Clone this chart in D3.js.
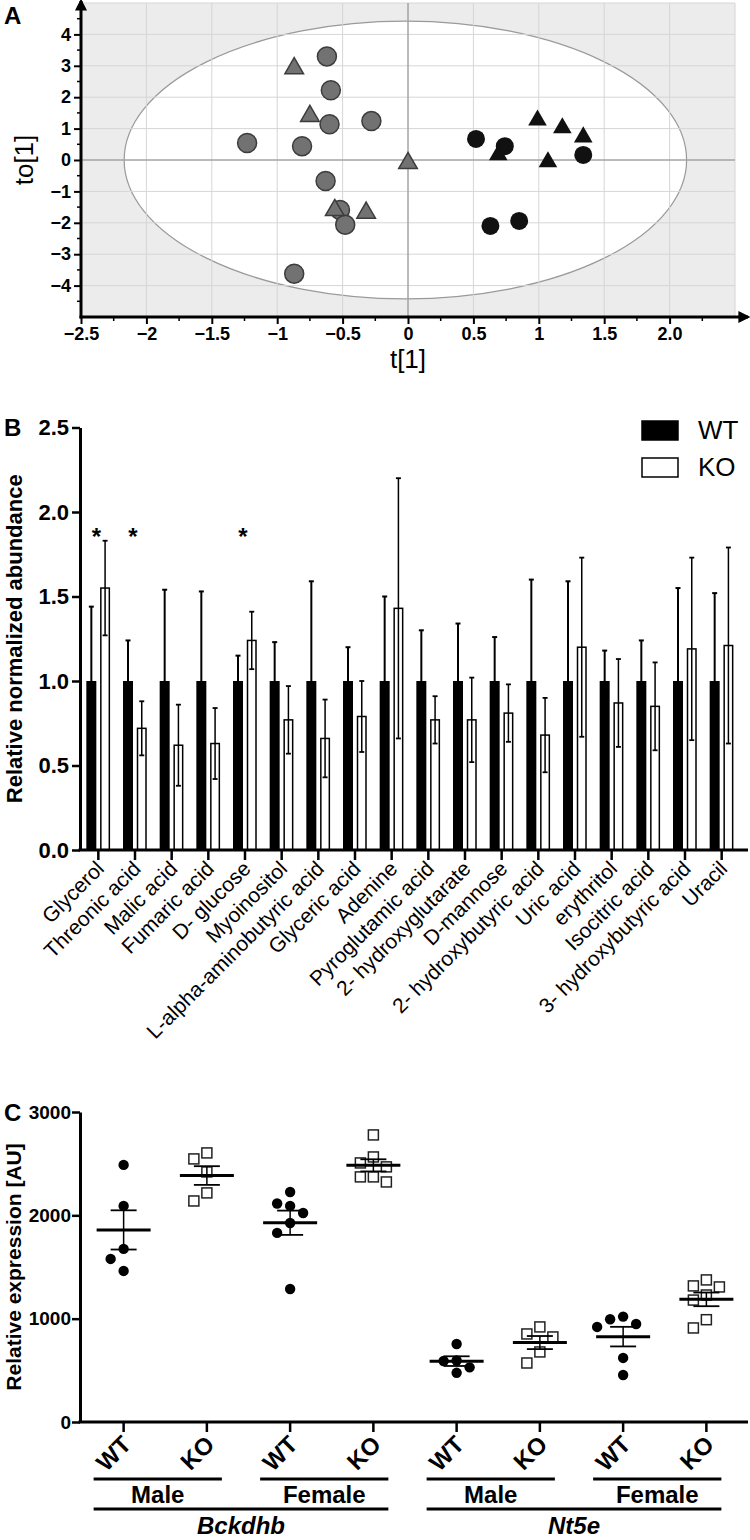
<!DOCTYPE html>
<html><head><meta charset="utf-8">
<script src="https://cdn.jsdelivr.net/npm/d3@7"></script>
<style>body{margin:0;background:#fff}svg{display:block}</style>
</head><body>
<svg id="chart" width="750" height="1540"></svg>
<script>
// ---------------- Panel A data (OPLS-DA scores) ----------------
const aXTicks = [-2.5, -2, -1.5, -1, -0.5, 0, 0.5, 1, 1.5, 2.0];
const aXTickLabels = ["\u22122.5", "\u22122", "\u22121.5", "\u22121", "\u22120.5", "0", "0.5", "1", "1.5", "2.0"];
const aYTicks = [-4, -3, -2, -1, 0, 1, 2, 3, 4];
const aYTickLabels = ["\u22124", "\u22123", "\u22122", "\u22121", "0", "1", "2", "3", "4"];
const grayCircles = [[-0.62, 3.30], [-0.59, 2.22], [-0.60, 1.14], [-0.28, 1.24], [-1.23, 0.54],
  [-0.81, 0.44], [-0.63, -0.67], [-0.52, -1.59], [-0.48, -2.06], [-0.87, -3.62]];
const grayTriangles = [[-0.87, 2.92], [-0.75, 1.40], [0.0, -0.10], [-0.56, -1.60], [-0.32, -1.68]];
const blackCircles = [[0.52, 0.67], [0.74, 0.44], [1.34, 0.16], [0.63, -2.10], [0.85, -1.94]];
const blackTriangles = [[0.99, 1.27], [1.18, 1.02], [1.34, 0.73], [0.69, 0.16], [1.07, -0.06]];
const ellipseT = 2.15, ellipseTo = 4.42;

// ---------------- Panel B data ----------------
const metabolites = ["Glycerol", "Threonic acid", "Malic acid", "Fumaric acid", "D- glucose", "Myoinositol",
  "L-alpha-aminobutyric acid", "Glyceric acid", "Adenine", "Pyroglutamic acid", "2- hydroxyglutarate",
  "D-mannose", "2- hydroxybutyric acid", "Uric acid", "erythritol", "Isocitric acid",
  "3- hydroxybutyric acid", "Uracil"];
const wtMean = [1, 1, 1, 1, 1, 1, 1, 1, 1, 1, 1, 1, 1, 1, 1, 1, 1, 1];
const wtErr = [0.44, 0.24, 0.54, 0.53, 0.15, 0.23, 0.59, 0.20, 0.50, 0.30, 0.34, 0.26, 0.60, 0.59, 0.18, 0.24, 0.55, 0.52];
const koMean = [1.55, 0.72, 0.62, 0.63, 1.24, 0.77, 0.66, 0.79, 1.43, 0.77, 0.77, 0.81, 0.68, 1.20, 0.87, 0.85, 1.19, 1.21];
const koErr = [0.28, 0.16, 0.24, 0.21, 0.17, 0.20, 0.23, 0.21, 0.77, 0.14, 0.25, 0.17, 0.22, 0.53, 0.26, 0.26, 0.54, 0.58];
const significant = ["Glycerol", "Threonic acid", "D- glucose"];
const bYTicks = [0, 0.5, 1.0, 1.5, 2.0, 2.5];
const bSeries = ["WT", "KO"];

// ---------------- Panel C data ----------------
const genes = ["Bckdhb", "Nt5e"];
const sexes = ["Male", "Female"];
const genotypes = ["WT", "KO"];
const bckdhbMaleWT = [2488, 2091, 1675, 1578, 1462];
const bckdhbMaleKO = [2604, 2546, 2420, 2217, 2139];
const bckdhbFemaleWT = [2226, 2115, 2091, 2023, 1926, 1830, 1287];
const bckdhbFemaleKO = [2778, 2565, 2507, 2469, 2372, 2372, 2323];
const nt5eMaleWT = [755, 595, 590, 529, 476];
const nt5eMaleKO = [920, 852, 823, 678, 571];
const nt5eFemaleWT = [1020, 994, 948, 920, 620, 455];
const nt5eFemaleKO = [1375, 1317, 1307, 1229, 1180, 990, 910];
const cYTicks = [0, 1000, 2000, 3000];

// ======================================================
const svg = d3.select("#chart");
svg.append("rect").attr("width", 750).attr("height", 1540).attr("fill", "#fff");
const SANS = "'Liberation Sans',Arial,Helvetica,sans-serif";

const defs = svg.append("defs");
defs.append("marker").attr("id", "arrow").attr("viewBox", "0 0 10 10").attr("refX", 8).attr("refY", 5)
  .attr("markerWidth", 4).attr("markerHeight", 4).attr("orient", "auto")
  .append("path").attr("d", "M0,0 L10,5 L0,10 Z").attr("fill", "#000");

// ---------------- Panel A ----------------
{
  const x = d3.scaleLinear().domain([-2.5, 2.5]).range([81, 735]);
  const y = d3.scaleLinear().domain([-5, 5]).range([317, 3]);
  const g = svg.append("g");
  g.append("rect").attr("x", x(-2.5)).attr("y", y(5)).attr("width", x(2.5) - x(-2.5)).attr("height", y(-5) - y(5))
    .attr("fill", "#ececec");
  g.append("ellipse").attr("cx", x(-0.02)).attr("cy", y(0))
    .attr("rx", x(ellipseT) - x(0)).attr("ry", y(0) - y(ellipseTo))
    .attr("fill", "#fff").attr("stroke", "#9a9a9a").attr("stroke-width", 1.2);
  const gx = d3.range(-2, 2.51, 0.5), gy = d3.range(-4, 5.01, 1);
  g.selectAll(".gvx").data(gx).join("line").attr("x1", d => x(d)).attr("x2", d => x(d))
    .attr("y1", y(5)).attr("y2", y(-5)).attr("stroke", "#d6d6d6").attr("stroke-width", 1);
  g.selectAll(".gvy").data(gy).join("line").attr("y1", d => y(d)).attr("y2", d => y(d))
    .attr("x1", x(-2.5)).attr("x2", x(2.5)).attr("stroke", "#d6d6d6").attr("stroke-width", 1);
  g.append("line").attr("x1", x(0)).attr("x2", x(0)).attr("y1", y(5)).attr("y2", y(-5)).attr("stroke", "#8a8a8a");
  g.append("line").attr("y1", y(0)).attr("y2", y(0)).attr("x1", x(-2.5)).attr("x2", x(2.5)).attr("stroke", "#8a8a8a");

  // points
  const tri = d3.symbol().type(d3.symbolTriangle).size(150);
  g.selectAll(".gc").data(grayCircles).join("circle").attr("cx", d => x(d[0])).attr("cy", d => y(d[1]))
    .attr("r", 9.5).attr("fill", "#727272").attr("stroke", "#3c3c3c").attr("stroke-width", 1.5);
  g.selectAll(".gt").data(grayTriangles).join("path").attr("d", tri)
    .attr("transform", d => `translate(${x(d[0])},${y(d[1])})`)
    .attr("fill", "#727272").attr("stroke", "#3c3c3c").attr("stroke-width", 1.5);
  g.selectAll(".bc").data(blackCircles).join("circle").attr("cx", d => x(d[0])).attr("cy", d => y(d[1]))
    .attr("r", 9).attr("fill", "#111");
  g.selectAll(".bt").data(blackTriangles).join("path").attr("d", tri)
    .attr("transform", d => `translate(${x(d[0])},${y(d[1])})`).attr("fill", "#111");

  // axes
  const yAx = d3.axisLeft(y).tickValues(aYTicks).tickSize(7).tickSizeOuter(0)
    .tickFormat((d, i) => aYTickLabels[i]);
  const ya = g.append("g").attr("transform", `translate(${x(-2.5)},0)`).call(yAx);
  ya.select(".domain").remove();
  ya.selectAll(".tick line").attr("stroke-width", 2);
  ya.selectAll(".tick text").attr("font-family", SANS).attr("font-weight", "bold").attr("font-size", 18).attr("x", -10);
  g.selectAll(".ymin").data(d3.range(-4.5, 4.6, 1)).join("line").attr("x1", x(-2.5) - 4).attr("x2", x(-2.5))
    .attr("y1", d => y(d)).attr("y2", d => y(d)).attr("stroke", "#000").attr("stroke-width", 1.5);

  const xAx = d3.axisBottom(x).tickValues(aXTicks).tickSize(7).tickSizeOuter(0)
    .tickFormat((d, i) => aXTickLabels[i]);
  const xa = g.append("g").attr("transform", `translate(0,${y(-5)})`).call(xAx);
  xa.select(".domain").remove();
  xa.selectAll(".tick line").attr("stroke-width", 2);
  xa.selectAll(".tick text").attr("font-family", SANS).attr("font-weight", "bold").attr("font-size", 18).attr("y", 10);
  g.selectAll(".xmin").data(d3.range(-2.25, 2.5, 0.5)).join("line").attr("y1", y(-5)).attr("y2", y(-5) + 4)
    .attr("x1", d => x(d)).attr("x2", d => x(d)).attr("stroke", "#000").attr("stroke-width", 1.5);

  g.append("line").attr("x1", x(-2.5)).attr("x2", x(-2.5)).attr("y1", y(-5) + 1.5).attr("y2", 1)
    .attr("stroke", "#000").attr("stroke-width", 3).attr("marker-end", "url(#arrow)");
  g.append("line").attr("x1", x(-2.5) - 1.5).attr("x2", 748).attr("y1", y(-5)).attr("y2", y(-5))
    .attr("stroke", "#000").attr("stroke-width", 3).attr("marker-end", "url(#arrow)");

  g.append("text").attr("x", x(0)).attr("y", 368).attr("text-anchor", "middle")
    .attr("font-family", SANS).attr("font-size", 26).text("t[1]");
  g.append("text").attr("transform", `translate(33,${y(0)}) rotate(-90)`).attr("text-anchor", "middle")
    .attr("font-family", SANS).attr("font-size", 26).text("to[1]");
  g.append("text").attr("x", 4).attr("y", 24).attr("font-family", SANS).attr("font-weight", "bold")
    .attr("font-size", 24).text("A");
}

// ---------------- Panel B ----------------
{
  const x = d3.scaleBand().domain(metabolites).range([80, 740]);
  const y = d3.scaleLinear().domain([0, 2.5]).range([850, 427.5]);
  const g = svg.append("g");
  const c = m => x(m) + x.bandwidth() / 2;
  const rows = metabolites.map((m, i) => ({ m, wt: wtMean[i], wte: wtErr[i], ko: koMean[i], koe: koErr[i] }));

  // WT bars + upper error
  g.selectAll(".wt").data(rows).join("rect").attr("x", d => c(d.m) - 12).attr("width", 10)
    .attr("y", d => y(d.wt)).attr("height", d => y(0) - y(d.wt)).attr("fill", "#000");
  g.selectAll(".wte").data(rows).join("line").attr("x1", d => c(d.m) - 7).attr("x2", d => c(d.m) - 7)
    .attr("y1", d => y(d.wt)).attr("y2", d => y(d.wt + d.wte)).attr("stroke", "#000").attr("stroke-width", 2);
  g.selectAll(".wtc").data(rows).join("line").attr("x1", d => c(d.m) - 9.5).attr("x2", d => c(d.m) - 4.5)
    .attr("y1", d => y(d.wt + d.wte)).attr("y2", d => y(d.wt + d.wte)).attr("stroke", "#000").attr("stroke-width", 2);

  // KO bars + error both ways
  g.selectAll(".ko").data(rows).join("rect").attr("x", d => c(d.m) + 2.5).attr("width", 8.5)
    .attr("y", d => y(d.ko)).attr("height", d => y(0) - y(d.ko)).attr("fill", "#fff")
    .attr("stroke", "#000").attr("stroke-width", 1.5);
  g.selectAll(".koe").data(rows).join("line").attr("x1", d => c(d.m) + 6.75).attr("x2", d => c(d.m) + 6.75)
    .attr("y1", d => y(d.ko - d.koe)).attr("y2", d => y(d.ko + d.koe)).attr("stroke", "#000").attr("stroke-width", 1.5);
  ["+", "-"].forEach(s => {
    g.selectAll(".koc" + (s === "+" ? "p" : "m")).data(rows).join("line")
      .attr("x1", d => c(d.m) + 4.25).attr("x2", d => c(d.m) + 9.25)
      .attr("y1", d => y(s === "+" ? d.ko + d.koe : d.ko - d.koe))
      .attr("y2", d => y(s === "+" ? d.ko + d.koe : d.ko - d.koe))
      .attr("stroke", "#000").attr("stroke-width", 1.8);
  });

  // significance
  g.selectAll(".sig").data(significant).join("text").attr("x", d => c(d) - 2).attr("y", 545)
    .attr("text-anchor", "middle").attr("font-family", SANS).attr("font-weight", "bold").attr("font-size", 24).text("*");

  // y axis
  const yAx = d3.axisLeft(y).tickValues(bYTicks).tickSize(8).tickSizeOuter(0).tickFormat(d3.format(".1f"));
  const ya = g.append("g").attr("transform", "translate(80,0)").call(yAx);
  ya.select(".domain").attr("stroke-width", 3);
  ya.selectAll(".tick line").attr("stroke-width", 2.5);
  ya.selectAll(".tick text").attr("font-family", SANS).attr("font-weight", "bold").attr("font-size", 22).attr("x", -11);

  // x axis
  g.append("line").attr("x1", 78.5).attr("x2", 748).attr("y1", y(0)).attr("y2", y(0)).attr("stroke", "#000").attr("stroke-width", 3);
  g.selectAll(".xt").data(metabolites).join("line").attr("x1", d => c(d)).attr("x2", d => c(d))
    .attr("y1", y(0)).attr("y2", y(0) + 10).attr("stroke", "#000").attr("stroke-width", 2.5);
  g.selectAll(".xl").data(metabolites).join("text")
    .attr("transform", d => `translate(${c(d) + 7},${y(0) + 20}) rotate(-45)`)
    .attr("text-anchor", "end").attr("font-family", SANS).attr("font-size", 21).text(d => d);

  g.append("text").attr("transform", `translate(22,${(y(0) + y(2.5)) / 2}) rotate(-90)`).attr("text-anchor", "middle")
    .attr("font-family", SANS).attr("font-weight", "bold").attr("font-size", 22).text("Relative normalized abundance");
  g.append("text").attr("x", 4).attr("y", 436).attr("font-family", SANS).attr("font-weight", "bold")
    .attr("font-size", 24).text("B");

  // legend
  const leg = g.append("g");
  bSeries.forEach((s, i) => {
    const yy = 430 + i * 37;
    leg.append("rect").attr("x", 642).attr("y", yy - 9).attr("width", 36).attr("height", 19)
      .attr("fill", s === "WT" ? "#000" : "#fff").attr("stroke", "#000").attr("stroke-width", 1.5);
    leg.append("text").attr("x", 698).attr("y", yy + 9).attr("font-family", SANS).attr("font-size", 26).text(s);
  });
}

// ---------------- Panel C ----------------
{
  const groups = [
    { gene: genes[0], sex: sexes[0], gt: genotypes[0], v: bckdhbMaleWT },
    { gene: genes[0], sex: sexes[0], gt: genotypes[1], v: bckdhbMaleKO },
    { gene: genes[0], sex: sexes[1], gt: genotypes[0], v: bckdhbFemaleWT },
    { gene: genes[0], sex: sexes[1], gt: genotypes[1], v: bckdhbFemaleKO },
    { gene: genes[1], sex: sexes[0], gt: genotypes[0], v: nt5eMaleWT },
    { gene: genes[1], sex: sexes[0], gt: genotypes[1], v: nt5eMaleKO },
    { gene: genes[1], sex: sexes[1], gt: genotypes[0], v: nt5eFemaleWT },
    { gene: genes[1], sex: sexes[1], gt: genotypes[1], v: nt5eFemaleKO }
  ];
  groups.forEach((d, i) => {
    d.i = i; d.mean = d3.mean(d.v); d.sem = d3.deviation(d.v) / Math.sqrt(d.v.length);
  });
  const x = d3.scalePoint().domain(d3.range(groups.length)).range([82, 748]).padding(0.5);
  const y = d3.scaleLinear().domain([0, 3000]).range([1422, 1112]);
  const g = svg.append("g");

  // simple dodge layout computed from values
  const D = 13, THR = 11.5;
  const pts = [];
  groups.forEach(gr => {
    const placed = [];
    gr.v.forEach(val => {
      const py = y(val);
      const cands = [0, -D, D, -2 * D, 2 * D];
      let off = 0;
      for (const o of cands) {
        if (placed.every(p => Math.hypot(p.o - o, p.py - py) >= THR)) { off = o; break; }
      }
      placed.push({ o: off, py });
      pts.push({ gt: gr.gt, cx: x(gr.i) + off, cy: py });
    });
  });
  g.selectAll(".dot").data(pts.filter(p => p.gt === "WT")).join("circle")
    .attr("cx", d => d.cx).attr("cy", d => d.cy).attr("r", 5.2).attr("fill", "#000");
  g.selectAll(".sq").data(pts.filter(p => p.gt === "KO")).join("rect")
    .attr("x", d => d.cx - 5).attr("y", d => d.cy - 5).attr("width", 10).attr("height", 10)
    .attr("fill", "#fff").attr("stroke", "#222").attr("stroke-width", 1.5);

  // mean & SEM
  g.selectAll(".mean").data(groups).join("line").attr("x1", d => x(d.i) - 27).attr("x2", d => x(d.i) + 27)
    .attr("y1", d => y(d.mean)).attr("y2", d => y(d.mean)).attr("stroke", "#000").attr("stroke-width", 3);
  g.selectAll(".semv").data(groups).join("line").attr("x1", d => x(d.i)).attr("x2", d => x(d.i))
    .attr("y1", d => y(d.mean - d.sem)).attr("y2", d => y(d.mean + d.sem)).attr("stroke", "#000").attr("stroke-width", 1.5);
  [1, -1].forEach(s => {
    g.selectAll(".cap" + s).data(groups).join("line").attr("x1", d => x(d.i) - 13).attr("x2", d => x(d.i) + 13)
      .attr("y1", d => y(d.mean + s * d.sem)).attr("y2", d => y(d.mean + s * d.sem))
      .attr("stroke", "#000").attr("stroke-width", 1.8);
  });

  // y axis
  const yAx = d3.axisLeft(y).tickValues(cYTicks).tickSize(8).tickSizeOuter(0).tickFormat(d3.format("d"));
  const ya = g.append("g").attr("transform", "translate(80,0)").call(yAx);
  ya.select(".domain").attr("stroke-width", 3);
  ya.selectAll(".tick line").attr("stroke-width", 2.5);
  ya.selectAll(".tick text").attr("font-family", SANS).attr("font-weight", "bold").attr("font-size", 19).attr("x", -9);

  // x axis
  g.append("line").attr("x1", 78.5).attr("x2", 748).attr("y1", y(0)).attr("y2", y(0)).attr("stroke", "#000").attr("stroke-width", 3);
  g.selectAll(".xt").data(groups).join("line").attr("x1", d => x(d.i)).attr("x2", d => x(d.i))
    .attr("y1", y(0)).attr("y2", y(0) + 10).attr("stroke", "#000").attr("stroke-width", 2.5);
  g.selectAll(".xl").data(groups).join("text")
    .attr("transform", d => `translate(${x(d.i) + 9},${y(0) + 24}) rotate(-45)`)
    .attr("text-anchor", "end").attr("font-family", SANS).attr("font-weight", "bold").attr("font-size", 24).text(d => d.gt);

  // sex brackets
  const sexGroups = d3.groups(groups, d => d.gene + "|" + d.sex).map(([k, arr]) => ({
    sex: arr[0].sex, x0: x(arr[0].i) - 30, x1: x(arr[arr.length - 1].i) + 15 }));
  g.selectAll(".sl").data(sexGroups).join("line").attr("x1", d => d.x0).attr("x2", d => d.x1)
    .attr("y1", 1479).attr("y2", 1479).attr("stroke", "#000").attr("stroke-width", 3);
  g.selectAll(".st").data(sexGroups).join("text").attr("x", d => (d.x0 + d.x1) / 2).attr("y", 1503)
    .attr("text-anchor", "middle").attr("font-family", SANS).attr("font-weight", "bold").attr("font-size", 24).text(d => d.sex);
  const geneGroups = d3.groups(groups, d => d.gene).map(([k, arr]) => ({
    gene: k, x0: x(arr[0].i) - 30, x1: x(arr[arr.length - 1].i) + 15 }));
  g.selectAll(".gl").data(geneGroups).join("line").attr("x1", d => d.x0).attr("x2", d => d.x1)
    .attr("y1", 1509).attr("y2", 1509).attr("stroke", "#000").attr("stroke-width", 3);
  g.selectAll(".gtx").data(geneGroups).join("text").attr("x", d => (d.x0 + d.x1) / 2).attr("y", 1534)
    .attr("text-anchor", "middle").attr("font-family", SANS).attr("font-weight", "bold").attr("font-style", "italic")
    .attr("font-size", 24).text(d => d.gene);

  g.append("text").attr("transform", `translate(21,${(y(0) + y(3000)) / 2}) rotate(-90)`).attr("text-anchor", "middle")
    .attr("font-family", SANS).attr("font-weight", "bold").attr("font-size", 21).text("Relative expression [AU]");
  g.append("text").attr("x", 4).attr("y", 1121).attr("font-family", SANS).attr("font-weight", "bold")
    .attr("font-size", 24).text("C");
}
</script>
</body></html>
